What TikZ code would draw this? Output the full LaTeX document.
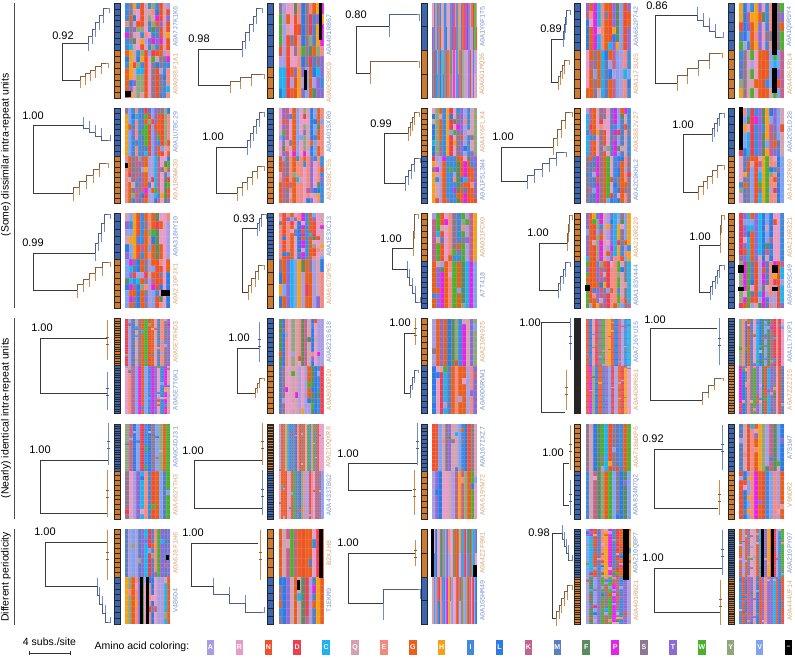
\documentclass[tikz,border=0pt]{standalone}
\usepackage{fontspec}
\setmainfont{Liberation Sans}
\newfontfamily\monof{Liberation Mono}
\definecolor{aaA}{HTML}{A99CE0}\definecolor{aaR}{HTML}{E79BC6}\definecolor{aaN}{HTML}{F0512A}
\definecolor{aaD}{HTML}{EE3E4F}\definecolor{aaC}{HTML}{1FB2EE}\definecolor{aaQ}{HTML}{D5A0B0}
\definecolor{aaE}{HTML}{F28A7F}\definecolor{aaG}{HTML}{E8601C}\definecolor{aaH}{HTML}{F6A01A}
\definecolor{aaI}{HTML}{3E8BDD}\definecolor{aaL}{HTML}{2D7CE6}\definecolor{aaK}{HTML}{C2628D}
\definecolor{aaM}{HTML}{5B7EC2}\definecolor{aaF}{HTML}{5D8A5F}\definecolor{aaP}{HTML}{E225E6}
\definecolor{aaS}{HTML}{8E7790}\definecolor{aaT}{HTML}{8C6CD4}\definecolor{aaW}{HTML}{4CAF2E}
\definecolor{aaY}{HTML}{8FA77A}\definecolor{aaV}{HTML}{7FA3F2}
\def\npal{31}
\colorlet{pal0}{aaG}\colorlet{pal1}{aaG}\colorlet{pal2}{aaG}\colorlet{pal3}{aaN}
\colorlet{pal4}{aaN}\colorlet{pal5}{aaD}\colorlet{pal6}{aaE}\colorlet{pal7}{aaL}
\colorlet{pal8}{aaL}\colorlet{pal9}{aaI}\colorlet{pal10}{aaI}\colorlet{pal11}{aaV}
\colorlet{pal12}{aaV}\colorlet{pal13}{aaM}\colorlet{pal14}{aaA}\colorlet{pal15}{aaA}
\colorlet{pal16}{aaT}\colorlet{pal17}{aaT}\colorlet{pal18}{aaR}\colorlet{pal19}{aaR}
\colorlet{pal20}{aaQ}\colorlet{pal21}{aaQ}\colorlet{pal22}{aaE}\colorlet{pal23}{aaS}
\colorlet{pal24}{aaS}\colorlet{pal25}{aaY}\colorlet{pal26}{aaF}\colorlet{pal27}{aaK}
\colorlet{pal28}{aaC}\colorlet{pal29}{aaH}\colorlet{pal30}{aaW}\colorlet{pal31}{aaP}
\definecolor{sb}{HTML}{3C66AF}\definecolor{so}{HTML}{CD7B30}
\definecolor{sdb}{HTML}{1E2638}\definecolor{sdo}{HTML}{2E2014}
\definecolor{lb}{HTML}{7C97CF}\definecolor{lo}{HTML}{D9A778}
\definecolor{cb}{HTML}{6F8FCB}\definecolor{co}{HTML}{CC8E50}
\definecolor{trgray}{HTML}{3A3A3A}
\definecolor{gridc}{HTML}{E8E8F0}
\tikzset{
 treeline/.style={draw=trgray, line width=0.6pt},
 treec/.style={draw=#1!45!trgray, line width=0.6pt},
 tipline/.style={draw=#1, line width=0.6pt},
 stripbox/.style={draw=black!85, line width=0.3pt},
 alngrid/.style={draw=gridc, draw opacity=0.15, line width=0.12pt},
 idlab/.style={font=\monof\fontsize{6.8}{7}\selectfont, rotate=90, inner sep=0pt},
 suplab/.style={font=\fontsize{11}{12}\selectfont, inner sep=0pt},
 seclab/.style={font=\fontsize{10.5}{12}\selectfont, rotate=90, inner sep=0pt},
 seclinestyle/.style={draw=black!70, line width=0.8pt},
 leg/.style={font=\fontsize{10.5}{12}\selectfont, inner sep=0pt},
 aabox/.style={minimum width=7.5pt, minimum height=15pt, inner sep=0pt, text=white, font=\fontsize{7}{8}\selectfont\bfseries},
}
\def\tiplen{8}
\newcommand\setpanel[3]{%
  \pgfmathsetmacro\pS{114+153.5*(#1-1)}%
  \pgfmathsetmacro\pT{3+105.2*(#2-1)}%
  \pgfmathsetmacro\pB{\pT+95}%
  \pgfmathsetmacro\pM{\pT+#3}%
  \def\pc{#1}\def\pr{#2}}
\newcommand\strip[4]{%
  \def\nT{#1}\def\nB{#2}%
  \pgfmathsetmacro\hT{(\pM-\pT)/#1}%
  \pgfmathsetmacro\hB{(\pB-\pM)/#2}%
  \fill[#3] (\pS,\pT) rectangle ({\pS+6},\pM);
  \fill[#4] (\pS,\pM) rectangle ({\pS+6},\pB);
  \path[stripbox] (\pS,\pT) rectangle ({\pS+6},\pB)
     \foreach \i in {1,...,#1}{ (\pS,{\pT+\i*\hT}) -- ++(6,0) }
     \foreach \i in {1,...,#2}{ (\pS,{\pM+\i*\hB}) -- ++(6,0) };}
\newcommand\aln[3]{%
  \pgfmathsetseed{#3}%
  \pgfmathsetmacro\cw{45/#1}%
  \foreach \j in {1,...,#1}{%
    \pgfmathtruncatemacro\bT{random(0,\npal)}%
    \pgfmathtruncatemacro\bB{random(0,\npal)}%
    \pgfmathsetmacro\xx{\pS+11+(\j-1)*\cw}%
    \fill[pal\bT] (\xx,\pT) rectangle ({\xx+\cw},\pM);
    \fill[pal\bB] (\xx,\pM) rectangle ({\xx+\cw},\pB);
    \foreach \i in {1,...,\nT}{%
      \pgfmathsetmacro\rr{rnd}%
      \ifdim\rr pt<#2pt
        \pgfmathtruncatemacro\cc{random(0,\npal)}%
        \fill[pal\cc] (\xx,{\pT+(\i-1)*\hT}) rectangle ++(\cw,\hT);
      \fi}%
    \foreach \i in {1,...,\nB}{%
      \pgfmathsetmacro\rr{rnd}%
      \ifdim\rr pt<#2pt
        \pgfmathtruncatemacro\cc{random(0,\npal)}%
        \fill[pal\cc] (\xx,{\pM+(\i-1)*\hB}) rectangle ++(\cw,\hB);
      \fi}%
  }
  \path[alngrid]
     \foreach \i in {1,...,\nT}{ ({\pS+11},{\pT+\i*\hT}) -- ++(45,0) }
     \foreach \i in {1,...,\nB}{ ({\pS+11},{\pM+\i*\hB}) -- ++(45,0) }
     \foreach \j in {1,...,#1}{ ({\pS+11+\j*\cw},\pT) -- ({\pS+11+\j*\cw},\pB) };}
\newcommand\labs[4]{%
  \node[idlab, text=#2] (lt\pr\pc) at ({\pS+61.5},{(\pT+\pM)/2}) {#1};
  \node[idlab, text=#4] (lb\pr\pc) at ({\pS+61.5},{(\pM+\pB)/2}) {#3};}
\newcommand\supp[3]{\node[suplab] (s\pr\pc) at (#1,#2) {#3};}
\newcommand\troot[3]{\draw[treeline] (#1,#2) -- (#1,#3);}
\newcommand\hbr[3]{\draw[treeline] (#1,#3) -- (#2,#3);}
\newcommand\clade[7]{%
  \draw[treeline] (#1,#2) -- (#3,#2);
  \pgfmathsetmacro\cdx{(#4-#3)/#6}%
  \pgfmathsetmacro\cdy{(#5-#2)/#6}%
  \pgfmathsetmacro\tdir{(#5>#2) ? -1 : 1}%
  \foreach \k in {1,...,#6}{%
    \pgfmathsetmacro\xa{#3+(\k-1)*\cdx}%
    \pgfmathsetmacro\ya{#2+(\k-1)*\cdy}%
    \pgfmathsetmacro\yb{#2+\k*\cdy}%
    \draw[treec=#7] (\xa,\ya) -- (\xa,\yb) -- ({\xa+\cdx},\yb);
    \draw[tipline=#7] (\xa,\ya) -- (\xa,{\ya+\tdir*\tiplen});}
  \draw[tipline=#7] (#4,#5) -- ({#4+2.5},#5) -- ({#4+2.5},{#5+\tdir*0.6*\tiplen});}
\newcommand\bundle[4]{%
  \draw[tipline=#4, line width=0.9pt] (#1,#2) -- (#1,#3);
  \draw[treec=#4] ({#1-1.2},{(#2+#3)/2-3}) -- ({#1+1.5},{(#2+#3)/2-3});
  \draw[treec=#4] ({#1-1.2},{(#2+#3)/2+4}) -- ({#1+1.5},{(#2+#3)/2+4});}
\begin{document}
\begin{tikzpicture}[x=1pt,y=-1pt]
\path[use as bounding box, fill=white] (0,0) rectangle (795,657);
% ---------- Row 1
\setpanel{1}{1}{47}\strip{8}{8}{sb}{so}\aln{12}{0.3}{101}
\labs{A0A7J7K1K6}{lb}{A0A098F1A1}{lo}
\troot{62}{43}{80}\clade{62}{43}{88}{107}{8}{5}{cb}\clade{62}{80}{80}{106}{63}{5}{co}\supp{63}{36}{0.92}
\setpanel{2}{1}{64}\strip{6}{3}{sb}{so}\aln{12}{0.3}{102}
\labs{A0A401R867}{lb}{A0A0C5BKC9}{lo}
\troot{198}{49}{85}\clade{198}{49}{242}{260}{8}{5}{cb}\clade{198}{85}{230}{262}{74}{3}{co}\supp{199}{39}{0.98}
\setpanel{3}{1}{47}\strip{2}{2}{sb}{so}\aln{30}{0.1}{103}
\labs{A0A1Y0F1T5}{lb}{A0A0G1MQ36}{lo}
\def\tiplen{11}
\troot{356}{26}{73}\clade{356}{26}{389}{417}{14}{1}{cb}\clade{356}{73}{370}{417}{61}{1}{co}\supp{356}{15}{0.80}
\def\tiplen{8}
\setpanel{4}{1}{47}\strip{6}{5}{sb}{so}\aln{12}{0.25}{104}
\labs{A0A662P742}{lb}{A0A117SU25}{lo}
\troot{551}{39}{82}\clade{551}{39}{563}{568}{10}{4}{cb}\clade{551}{82}{558}{567}{60}{4}{co}\supp{551}{29}{0.89}
\setpanel{5}{1}{47}\strip{5}{5}{sb}{so}\aln{12}{0.3}{105}
\labs{A0A1Q9R9Y4}{lb}{A0A4R6FRL4}{lo}
\troot{655}{15}{83}\clade{655}{15}{697}{721}{37}{4}{cb}\clade{655}{83}{677}{720}{53}{4}{co}\supp{657}{6}{0.86}
% ---------- Row 2
\setpanel{1}{2}{48}\strip{9}{9}{sb}{so}\aln{14}{0.25}{201}
\labs{A0A1U7BC29}{lb}{A0A1R0WK30}{lo}
\troot{33}{125}{193}\clade{33}{125}{83}{108}{140}{4}{cb}\clade{33}{193}{73}{106}{163}{5}{co}\supp{33}{116}{1.00}
\setpanel{2}{2}{48}\strip{9}{9}{sb}{so}\aln{13}{0.25}{202}
\labs{A0A401SXR0}{lb}{A0A398CT55}{lo}
\troot{216}{147}{193}\clade{216}{147}{247}{262}{112}{5}{cb}\clade{216}{193}{237}{262}{166}{5}{co}\supp{213}{137}{1.00}
\setpanel{3}{2}{48}\strip{9}{9}{so}{sb}\aln{13}{0.2}{203}
\labs{A0A4Y6FLX4}{lo}{A0A1F5L3W4}{lb}
\troot{384}{133}{183}\clade{384}{133}{408}{417}{112}{4}{co}\clade{384}{183}{405}{418}{158}{4}{cb}\supp{381}{124}{0.99}
\setpanel{4}{2}{48}\strip{9}{9}{so}{sb}\aln{13}{0.25}{204}
\labs{A0A388JV27}{lo}{A0A2C9KHL2}{lb}
\troot{501}{147}{181}\clade{501}{147}{553}{570}{112}{4}{co}\clade{501}{181}{527}{564}{152}{5}{cb}\supp{503}{137}{1.00}
\setpanel{5}{2}{48}\strip{6}{9}{sb}{so}\aln{12}{0.25}{205}
\labs{A0A2C9LD28}{lb}{A0A422FK60}{lo}
\troot{683}{134}{192}\clade{683}{134}{712}{722}{113}{4}{cb}\clade{683}{192}{698}{722}{165}{5}{co}\supp{683}{125}{1.00}
% ---------- Row 3
\setpanel{1}{3}{46}\strip{6}{8}{sb}{so}\aln{12}{0.25}{301}
\labs{A0A318HYI0}{lb}{A0A210PJX1}{lo}
\troot{33}{253}{290}\clade{33}{253}{95}{108}{214}{4}{cb}\clade{33}{290}{77}{108}{262}{5}{co}\supp{33}{243}{0.99}
\setpanel{2}{3}{46}\strip{12}{4}{sb}{so}\aln{12}{0.2}{302}
\labs{A0A1E3XC13}{lb}{A0A6G7GPK5}{lo}
\troot{242}{228}{292}\clade{242}{228}{257}{264}{214}{3}{cb}\clade{242}{292}{248}{262}{265}{4}{co}\supp{244}{219}{0.93}
\setpanel{3}{3}{48}\strip{8}{9}{so}{sb}\aln{11}{0.15}{303}
\labs{A0A031FCX0}{lo}{A7T418}{lb}
\troot{392}{248}{269}\clade{392}{248}{413}{416}{214}{2}{co}\clade{392}{269}{407}{418}{302}{4}{cb}\supp{391}{239}{1.00}
\setpanel{4}{3}{48}\strip{9}{9}{so}{sb}\aln{13}{0.25}{304}
\labs{A0A210R229}{lo}{A0A183V444}{lb}
\troot{539}{243}{290}\clade{539}{243}{567}{570}{215}{3}{co}\clade{539}{290}{558}{568}{262}{4}{cb}\supp{538}{233}{1.00}
\setpanel{5}{3}{48}\strip{8}{8}{so}{sb}\aln{12}{0.2}{305}
\labs{A0A210R321}{lo}{A0A6P0SC49}{lb}
\troot{699}{245}{292}\clade{699}{245}{720}{722}{215}{3}{co}\clade{699}{292}{710}{722}{265}{5}{cb}\supp{700}{237}{1.00}
% ---------- Row 4
\setpanel{1}{4}{47}\strip{20}{20}{so}{sb}\aln{14}{0.08}{401}
\labs{A0A5E7RHD3}{lo}{A0A5E7T6K1}{lb}
\troot{40}{338}{393}\hbr{40}{107}{338}\bundle{107}{320}{360}{co}\hbr{40}{107}{393}\bundle{107}{372}{410}{cb}\supp{42}{328}{1.00}
\setpanel{2}{4}{47}\strip{10}{9}{sb}{so}\aln{14}{0.1}{402}
\labs{A0A821S6I8}{lb}{A0A803XPI0}{lo}
\def\tiplen{5}
\troot{237}{348}{393}\hbr{237}{259}{348}\bundle{259}{322}{362}{cb}\clade{237}{393}{255}{262}{378}{3}{co}\supp{239}{338}{1.00}
\setpanel{3}{4}{47}\strip{8}{8}{so}{sb}\aln{12}{0.08}{403}
\labs{A0A210N925}{lo}{A0A0D6RVW1}{lb}
\troot{404}{333}{393}\hbr{404}{415}{333}\bundle{415}{318}{345}{co}\clade{404}{393}{410}{416}{370}{3}{cb}\supp{400}{323}{1.00}
\setpanel{4}{4}{47}\strip{40}{40}{sdb}{sdo}\aln{14}{0.06}{404}
\labs{A0A7J6YUI5}{lb}{A0A4D6M661}{lo}
\troot{541}{322}{412}\hbr{541}{570}{322}\bundle{570}{318}{360}{cb}\hbr{541}{565}{412}\bundle{566}{370}{410}{co}\supp{530}{323}{1.00}
\setpanel{5}{4}{47}\strip{18}{18}{sb}{so}\aln{16}{0.1}{405}
\labs{A0A1L7XKP1}{lb}{A0A7Z2ZJI5}{lo}
\troot{650}{328}{400}\hbr{650}{717}{328}\bundle{719}{318}{365}{cb}\clade{650}{400}{702}{721}{378}{3}{co}\supp{655}{320}{1.00}
\def\tiplen{8}
% ---------- Row 5
\setpanel{1}{5}{47}\strip{20}{10}{sb}{so}\aln{12}{0.05}{501}
\labs{A0A0C4DJ31}{lb}{A0A662YTH3}{lo}
\troot{40}{460}{513}\hbr{40}{108}{460}\bundle{108}{423}{465}{cb}\hbr{40}{107}{513}\bundle{107}{470}{517}{co}\supp{40}{450}{1.00}
\setpanel{2}{5}{47}\strip{30}{20}{so}{sb}\aln{22}{0.03}{502}
\labs{A0A210QXR8}{lo}{A0A433TBG2}{lb}
\troot{194}{460}{508}\hbr{194}{262}{460}\bundle{262}{423}{465}{co}\hbr{194}{262}{508}\bundle{262}{470}{515}{cb}\supp{193}{451}{1.00}
\setpanel{3}{5}{47}\strip{12}{8}{sb}{so}\aln{14}{0.05}{503}
\labs{A0A167IXZ7}{lb}{A0A619YW72}{lo}
\troot{348}{463}{490}\hbr{348}{417}{463}\bundle{417}{423}{465}{cb}\hbr{348}{412}{490}\bundle{414}{470}{515}{co}\supp{348}{454}{1.00}
\setpanel{4}{5}{47}\strip{10}{10}{so}{sb}\aln{12}{0.04}{504}
\labs{A0A718WXP6}{lo}{A0A834N7Q2}{lb}
\troot{563}{463}{505}\hbr{563}{569}{463}\bundle{570}{425}{470}{co}\hbr{563}{569}{505}\bundle{570}{480}{515}{cb}\supp{553}{453}{1.00}
\setpanel{5}{5}{47}\strip{10}{10}{sb}{so}\aln{12}{0.08}{505}
\labs{A7S1W7}{lb}{V9NDR2}{lo}
\troot{654}{449}{508}\hbr{654}{722}{449}\bundle{722}{425}{470}{cb}\hbr{654}{718}{508}\bundle{719}{480}{515}{co}\supp{653}{439}{0.92}
% ---------- Row 6
\setpanel{1}{6}{48}\strip{10}{8}{so}{sb}\aln{14}{0.1}{601}
\labs{A0A6J8F1H6}{lo}{V4B6D4}{lb}
\troot{45}{542}{586}\hbr{45}{107}{542}\bundle{107}{530}{580}{co}\clade{45}{586}{97}{108}{622}{4}{cb}\supp{45}{532}{1.00}
\setpanel{2}{6}{48}\strip{5}{6}{so}{sb}\aln{12}{0.1}{602}
\labs{B2XJH8}{lo}{T1EKM9}{lb}
\troot{191}{543}{586}\hbr{191}{258}{543}\bundle{260}{530}{580}{co}\clade{191}{586}{213}{262}{612}{3}{cb}\supp{193}{533}{1.00}
\setpanel{3}{6}{48}\strip{2}{2}{so}{sb}\aln{28}{0.05}{603}
\labs{A0A4Z2F9N1}{lo}{A0A1G5HM49}{lb}
\def\tiplen{17}
\troot{348}{553}{603}\hbr{348}{415}{553}\bundle{415}{540}{566}{co}\clade{348}{603}{383}{418}{589}{1}{cb}\supp{348}{543}{1.00}
\def\tiplen{8}
\setpanel{4}{6}{48}\strip{20}{20}{sb}{so}\aln{12}{0.2}{604}
\labs{A0A210QBP7}{lb}{A0A401RN21}{lo}
\troot{552}{533}{618}\clade{552}{533}{562}{570}{560}{4}{cb}\clade{552}{618}{556}{570}{585}{5}{co}\supp{539}{533}{0.98}
\setpanel{5}{6}{48}\strip{25}{25}{sb}{so}\aln{16}{0.08}{605}
\labs{A0A210PY07}{lb}{A0A444UF14}{lo}
\troot{654}{568}{612}\hbr{654}{722}{568}\bundle{722}{530}{575}{cb}\hbr{654}{720}{612}\bundle{720}{580}{625}{co}\supp{653}{558}{1.00}
% ---------- gap cells
\fill[black] (125,91) rectangle (131,97);
\fill[black] (319,3) rectangle (322,40); \fill[black] (304,70) rectangle (307,90);
\fill[black] (772,3) rectangle (777,55); \fill[black] (772,68) rectangle (777,93);
\fill[black] (125,163) rectangle (128,168);
\fill[black] (739,107) rectangle (743,150);
\fill[black] (161,290) rectangle (170,296);
\fill[black] (585,285) rectangle (590,291);
\fill[black] (738,265) rectangle (744,273); \fill[black] (772,265) rectangle (778,273);
\fill[black] (738,287) rectangle (744,291); \fill[black] (772,287) rectangle (778,291);
\fill[black] (140,577) rectangle (143,624); \fill[black] (146,577) rectangle (149,624); \fill[black] (166,555) rectangle (169,560);
\fill[black] (319,529) rectangle (323,578); \fill[black] (297,580) rectangle (300,590);
\fill[black] (431,529) rectangle (434,577); \fill[black] (473,565) rectangle (477,577);
\fill[black] (623,529) rectangle (629,580);
\fill[black] (761,529) rectangle (764,577); \fill[black] (771,529) rectangle (774,577);
% ---------- section labels
\coordinate (g1a) at (14,3); \coordinate (g1b) at (14,308);
\coordinate (g2a) at (14,318); \coordinate (g2b) at (14,519);
\coordinate (g3a) at (14,529); \coordinate (g3b) at (14,625);
\draw[seclinestyle] (g1a) -- (g1b); \draw[seclinestyle] (g2a) -- (g2b); \draw[seclinestyle] (g3a) -- (g3b);
\node[seclab] (sec1) at (6,155) {(Some) dissimilar intra-repeat units};
\node[seclab] (sec2) at (6,418) {(Nearly) identical intra-repeat units};
\node[seclab] (sec3) at (6,577) {Different periodicity};
% ---------- legend
\node[leg] (scl) at (49.5,642) {4 subs./site};
\coordinate (sbl) at (29,653); \coordinate (sbr) at (70,653);
\draw[black!80, line width=0.6pt] (sbl) -- (sbr);
\draw[black!80, line width=0.6pt] ([yshift=2pt]sbl) -- ([yshift=-2pt]sbl);
\draw[black!80, line width=0.6pt] ([yshift=2pt]sbr) -- ([yshift=-2pt]sbr);
\node[leg] (aac) at (142,647) {Amino acid coloring:};
\foreach \L [count=\k from 0] in {A,R,N,D,C,Q,E,G,H,I,L,K,M,F,P,S,T,W,Y,V}{
  \node[aabox, fill=aa\L] (box\L) at ({210.5+28.9*\k},647.5) {\L};}
\node[aabox, fill=black] (boxgap) at (788.5,647.5) {--};
\end{tikzpicture}
\end{document}
